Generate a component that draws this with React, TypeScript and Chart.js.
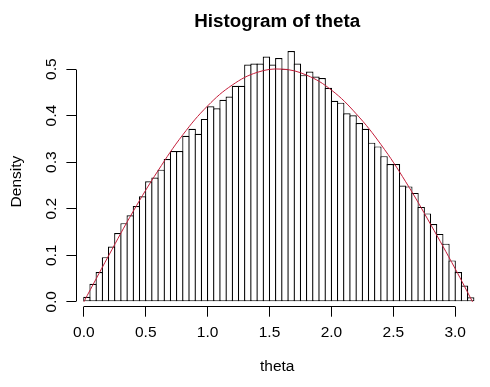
import { useEffect, useRef } from 'react';
import { Chart, registerables } from 'chart.js';

Chart.register(...registerables);

// Histogram bin midpoints (bin width 0.05, from 0 to 3.15)
const binMids = [
  0.025, 0.075, 0.125, 0.175, 0.225, 0.275, 0.325, 0.375, 0.425, 0.475,
  0.525, 0.575, 0.625, 0.675, 0.725, 0.775, 0.825, 0.875, 0.925, 0.975,
  1.025, 1.075, 1.125, 1.175, 1.225, 1.275, 1.325, 1.375, 1.425, 1.475,
  1.525, 1.575, 1.625, 1.675, 1.725, 1.775, 1.825, 1.875, 1.925, 1.975,
  2.025, 2.075, 2.125, 2.175, 2.225, 2.275, 2.325, 2.375, 2.425, 2.475,
  2.525, 2.575, 2.625, 2.675, 2.725, 2.775, 2.825, 2.875, 2.925, 2.975,
  3.025, 3.075, 3.125,
];

// Density of each bin
const density = [
  0.011, 0.039, 0.064, 0.096, 0.119, 0.148, 0.169, 0.186, 0.206, 0.227,
  0.259, 0.267, 0.284, 0.307, 0.324, 0.324, 0.357, 0.372, 0.361, 0.393,
  0.420, 0.416, 0.434, 0.441, 0.464, 0.464, 0.510, 0.512, 0.512, 0.527,
  0.510, 0.524, 0.501, 0.539, 0.512, 0.487, 0.495, 0.484, 0.481, 0.460,
  0.432, 0.428, 0.405, 0.401, 0.384, 0.372, 0.342, 0.334, 0.313, 0.296,
  0.296, 0.250, 0.248, 0.234, 0.204, 0.190, 0.167, 0.146, 0.125, 0.089,
  0.064, 0.035, 0.010,
];

// Red density curve
const curveX = [0, 0.2, 0.4, 0.6, 0.8, 1.0, 1.2, 1.4, 1.6, 1.8, 2.0, 2.2, 2.4, 2.6, 2.8, 3.0, 3.14];
const curveY = [0, 0.099, 0.195, 0.282, 0.359, 0.421, 0.466, 0.493, 0.5, 0.487, 0.455, 0.404, 0.338, 0.258, 0.167, 0.071, 0];

const xTickValues = [0, 0.5, 1, 1.5, 2, 2.5, 3];
const xTickLabels = ['0.0', '0.5', '1.0', '1.5', '2.0', '2.5', '3.0'];
const yTickValues = [0, 0.1, 0.2, 0.3, 0.4, 0.5];
const yTickLabels = ['0.0', '0.1', '0.2', '0.3', '0.4', '0.5'];

const titleText = 'Histogram of theta';
const xTitleText = 'theta';
const yTitleText = 'Density';

const FONT = '"Liberation Sans", Arial, Helvetica, sans-serif';

const axisLinesPlugin = {
  id: 'axisLines',
  afterDraw(chart: any) {
    const { ctx, chartArea, scales } = chart;
    const x = scales.x;
    const y = scales.y;
    ctx.save();
    ctx.strokeStyle = '#000';
    ctx.lineWidth = 1;
    ctx.beginPath();
    const by = Math.round(chartArea.bottom - 0.5) + 0.5;
    const x0 = Math.round(x.getPixelForValue(xTickValues[0]) - 0.5) + 0.5;
    const x1 = Math.round(x.getPixelForValue(xTickValues[xTickValues.length - 1]) - 0.5) + 0.5;
    ctx.moveTo(x0, by);
    ctx.lineTo(x1, by);
    const lx = Math.round(chartArea.left - 0.5) + 0.5;
    const y0 = Math.round(y.getPixelForValue(yTickValues[0]) - 0.5) + 0.5;
    const y1 = Math.round(y.getPixelForValue(yTickValues[yTickValues.length - 1]) - 0.5) + 0.5;
    ctx.moveTo(lx, y0);
    ctx.lineTo(lx, y1);
    ctx.stroke();
    ctx.restore();
  },
};

export default function App() {
  const canvasRef = useRef<HTMLCanvasElement | null>(null);

  useEffect(() => {
    const canvas = canvasRef.current;
    if (!canvas) return;
    const chart = new Chart(canvas, {
      type: 'bar',
      data: {
        datasets: [
          {
            type: 'line',
            label: 'curve',
            data: curveX.map((v, i) => ({ x: v, y: curveY[i] })),
            borderColor: '#c41e3a',
            borderWidth: 1,
            pointRadius: 0,
            tension: 0.4,
            fill: false,
            order: 1,
          } as any,
          {
            type: 'bar',
            label: 'theta',
            data: binMids.map((v, i) => ({ x: v, y: density[i] })),
            backgroundColor: '#ffffff',
            borderColor: '#000000',
            borderWidth: 1.2,
            borderSkipped: false,
            barThickness: 7.45,
            inflateAmount: 0,
            clip: false,
            order: 2,
          } as any,
        ],
      },
      options: {
        responsive: false,
        animation: false,
        devicePixelRatio: 1,
        layout: { padding: { left: 0, right: 12, top: 0, bottom: 0 } },
        plugins: {
          legend: { display: false },
          tooltip: { enabled: false },
          title: {
            display: true,
            text: titleText,
            fullSize: false,
            color: '#000',
            font: { family: FONT, size: 18.8, weight: 'bold' },
            padding: { top: 10.2, bottom: 23.7 },
          },
        },
        scales: {
          x: {
            type: 'linear',
            min: -0.06,
            max: 3.184,
            offset: false,
            grid: {
              display: true,
              offset: false,
              drawOnChartArea: false,
              drawTicks: true,
              tickLength: 10,
              color: '#000',
              lineWidth: 1,
            },
            border: { display: false },
            afterBuildTicks: (scale: any) => {
              scale.ticks = xTickValues.map((v) => ({ value: v }));
            },
            ticks: {
              autoSkip: false,
              maxRotation: 0,
              minRotation: 0,
              padding: 6.8,
              color: '#000',
              font: { family: FONT, size: 15.5 },
              callback: (_v: any, i: number) => xTickLabels[i],
            },
            title: {
              display: true,
              text: xTitleText,
              color: '#000',
              font: { family: FONT, size: 15.5 },
              padding: { top: 8.4, bottom: 11.1 },
            },
          },
          y: {
            type: 'linear',
            min: -0.01046,
            max: 0.5272,
            grid: {
              display: true,
              drawOnChartArea: false,
              drawTicks: true,
              tickLength: 10,
              color: '#000',
              lineWidth: 1,
            },
            border: { display: false },
            afterBuildTicks: (scale: any) => {
              scale.ticks = yTickValues.map((v) => ({ value: v }));
            },
            ticks: {
              autoSkip: false,
              minRotation: 90,
              maxRotation: 90,
              crossAlign: 'center',
              padding: 4.4,
              color: '#000',
              font: { family: FONT, size: 15.5 },
              callback: (_v: any, i: number) => yTickLabels[i],
            },
            title: {
              display: true,
              text: yTitleText,
              color: '#000',
              font: { family: FONT, size: 15.5 },
              padding: { top: 7.6, bottom: 12.8 },
            },
          },
        },
      } as any,
      plugins: [axisLinesPlugin],
    });
    return () => chart.destroy();
  }, []);

  return (
    <div style={{ position: 'fixed', left: 0, top: 0, width: 490, height: 387, background: '#fff' }}>
      <canvas ref={canvasRef} width={490} height={387} style={{ display: 'block' }} />
    </div>
  );
}
